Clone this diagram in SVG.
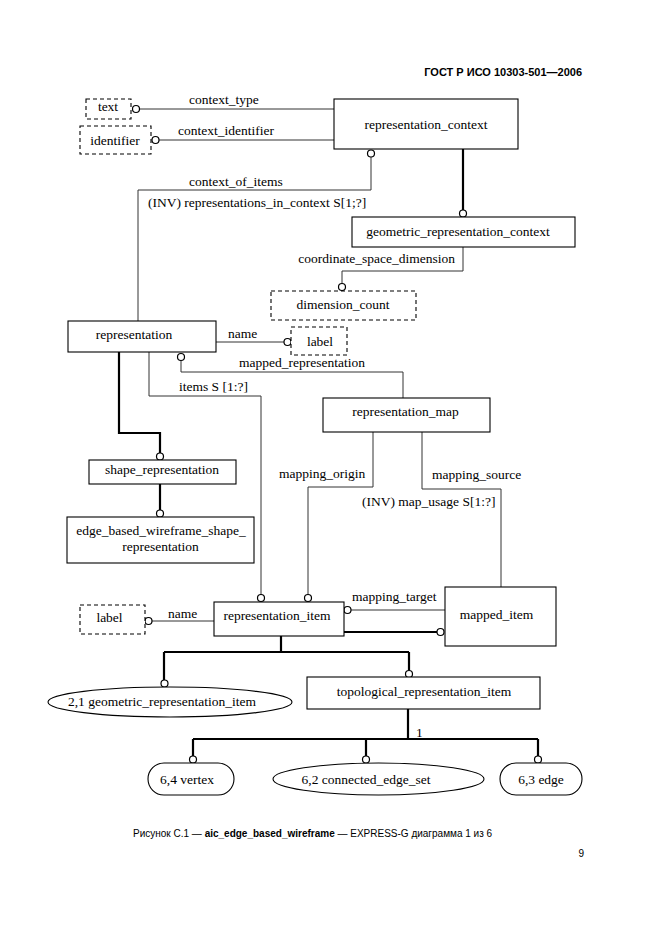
<svg xmlns="http://www.w3.org/2000/svg" width="661" height="936" viewBox="0 0 661 936">
<style>
.box{fill:#fff;stroke:#000;stroke-width:1.1}
.dash{fill:#fff;stroke:#000;stroke-width:1.1;stroke-dasharray:4,3}
.t{font-family:"Liberation Serif","Times New Roman",serif;font-size:13.5px;fill:#000}
.c{text-anchor:middle}
.thin{fill:none;stroke:#333;stroke-width:1}
.thick{fill:none;stroke:#000;stroke-width:2.2}
.circ{fill:#fff;stroke:#000;stroke-width:1.2}
.sans{font-family:"Liberation Sans",Arial,sans-serif;fill:#000}
</style>
<rect width="661" height="936" fill="#fff"/>
<text class="sans" x="582" y="76" font-size="11" font-weight="bold" text-anchor="end">ГОСТ Р ИСО 10303-501—2006</text>

<g id="connectors">
  <path class="thin" d="M139.5,109 H334"/>
  <path class="thin" d="M159,140 H334"/>
  <path class="thin" d="M371,157 V190 H138 V321"/>
  <path class="thick" d="M463,149 V210"/>
  <path class="thin" d="M463,247 V271 H342 V283.5" stroke="#777"/>
  <path class="thin" d="M216,342 H284"/>
  <path class="thick" d="M119,352 V433 H160 V453"/>
  <path class="thin" d="M149,352 V396 H261 V594.5"/>
  <path class="thin" d="M181,360.5 V372 H403 V398"/>
  <path class="thin" d="M373,432 V487 H308 V594.5"/>
  <path class="thin" d="M422,432 V489 H501 V587"/>
  <path class="thick" d="M160,484 V510"/>
  <path class="thin" d="M152,621 H214"/>
  <path class="thin" d="M351,610 H445"/>
  <path class="thick" d="M344,632 H437"/>
  <path class="thick" d="M281,636 V652 M164,652 H409 M164,652 V680 M409,652 V670.5"/>
  <path class="thick" d="M408,709 V739 M193,739 H538 M193,739 V756 M366,739 V756 M538,739 V756"/>
  <circle class="circ" cx="136" cy="109" r="3.5"/>
  <circle class="circ" cx="155.5" cy="140" r="3.5"/>
  <circle class="circ" cx="371" cy="153.5" r="3.5"/>
  <circle class="circ" cx="463" cy="213.5" r="3.5"/>
  <circle class="circ" cx="342" cy="287" r="3.5"/>
  <circle class="circ" cx="287.5" cy="342" r="3.5"/>
  <circle class="circ" cx="160" cy="456.5" r="3.5"/>
  <circle class="circ" cx="181" cy="357" r="3.5"/>
  <circle class="circ" cx="261" cy="598" r="3.5"/>
  <circle class="circ" cx="308" cy="598" r="3.5"/>
  <circle class="circ" cx="160" cy="513.5" r="3.5"/>
  <circle class="circ" cx="148.5" cy="621" r="3.5"/>
  <circle class="circ" cx="347.5" cy="610" r="3.5"/>
  <circle class="circ" cx="440.5" cy="632" r="3.5"/>
  <circle class="circ" cx="164.5" cy="683.5" r="3.5"/>
  <circle class="circ" cx="409" cy="674" r="3.5"/>
  <circle class="circ" cx="193" cy="759.5" r="3.5"/>
  <circle class="circ" cx="366" cy="759.5" r="3.5"/>
  <circle class="circ" cx="538" cy="759.5" r="3.5"/>
  <text class="t" x="189" y="104">context_type</text>
  <text class="t" x="178" y="135">context_identifier</text>
  <text class="t" x="189" y="186">context_of_items</text>
  <text class="t" x="148" y="207">(INV) representations_in_context S[1;?]</text>
  <text class="t" x="455" y="263" text-anchor="end">coordinate_space_dimension</text>
  <text class="t" x="228" y="338">name</text>
  <text class="t" x="239" y="367">mapped_representation</text>
  <text class="t" x="179" y="391">items S [1:?]</text>
  <text class="t" x="279" y="478">mapping_origin</text>
  <text class="t" x="432" y="478.5">mapping_source</text>
  <text class="t" x="362" y="506">(INV) map_usage S[1:?]</text>
  <text class="t" x="352" y="600.5">mapping_target</text>
  <text class="t" x="168" y="618">name</text>
  <text class="t" x="416" y="737">1</text>
</g>

<g id="text_type">
  <rect class="dash" x="86" y="99" width="45" height="20"/>
  <text class="t c" x="108" y="111" font-size="12">text</text>
</g>
<g id="identifier">
  <rect class="dash" x="80" y="126" width="71" height="28"/>
  <text class="t c" x="115" y="144.5">identifier</text>
</g>
<g id="representation_context">
  <rect class="box" x="334" y="99" width="184" height="50"/>
  <text class="t c" x="426" y="128.5">representation_context</text>
</g>
<g id="geometric_representation_context">
  <rect class="box" x="352" y="217" width="223" height="30"/>
  <text class="t c" x="458" y="236">geometric_representation_context</text>
</g>
<g id="dimension_count">
  <rect class="dash" x="271" y="291" width="145" height="29"/>
  <text class="t c" x="343" y="309">dimension_count</text>
</g>
<g id="representation">
  <rect class="box" x="68" y="321" width="148" height="31"/>
  <text class="t c" x="134" y="339">representation</text>
</g>
<g id="label_top">
  <rect class="dash" x="291" y="327" width="56" height="28"/>
  <text class="t c" x="320" y="346">label</text>
</g>
<g id="representation_map">
  <rect class="box" x="323" y="398" width="167" height="34"/>
  <text class="t c" x="405.5" y="415.5">representation_map</text>
</g>
<g id="shape_representation">
  <rect class="box" x="89" y="460" width="147" height="24"/>
  <text class="t c" x="162" y="473.5">shape_representation</text>
</g>
<g id="edge_based_wireframe_shape_representation">
  <rect class="box" x="67" y="517" width="187" height="46"/>
  <text class="t c" x="161" y="534.5">edge_based_wireframe_shape_</text>
  <text class="t c" x="160.5" y="550.5">representation</text>
</g>
<g id="representation_item">
  <rect class="box" x="214" y="602" width="130" height="34"/>
  <text class="t c" x="277" y="620">representation_item</text>
</g>
<g id="mapped_item">
  <rect class="box" x="445" y="587" width="111" height="59"/>
  <text class="t c" x="496.5" y="619">mapped_item</text>
</g>
<g id="label_bottom">
  <rect class="dash" x="80" y="605" width="65" height="29"/>
  <text class="t c" x="109.5" y="622">label</text>
</g>
<g id="geometric_representation_item">
  <ellipse class="box" cx="170" cy="702" rx="122" ry="15"/>
  <text class="t c" x="162" y="706">2,1 geometric_representation_item</text>
</g>
<g id="topological_representation_item">
  <rect class="box" x="307" y="677" width="233" height="32"/>
  <text class="t c" x="424" y="696">topological_representation_item</text>
</g>
<g id="vertex">
  <rect class="box" x="148" y="763" width="86" height="32" rx="16" ry="16"/>
  <text class="t c" x="187" y="784">6,4 vertex</text>
</g>
<g id="connected_edge_set">
  <ellipse class="box" cx="378.5" cy="779" rx="105.5" ry="16"/>
  <text class="t c" x="366" y="784">6,2 connected_edge_set</text>
</g>
<g id="edge">
  <rect class="box" x="500" y="763" width="82" height="32" rx="16" ry="16"/>
  <text class="t c" x="541" y="784">6,3 edge</text>
</g>

<text class="sans" x="133" y="837" font-size="10">Рисунок С.1 — <tspan font-weight="bold">aic_edge_based_wireframe</tspan> — EXPRESS-G диаграмма 1 из 6</text>
<text class="sans" x="584" y="857" font-size="10" text-anchor="end">9</text>
</svg>
